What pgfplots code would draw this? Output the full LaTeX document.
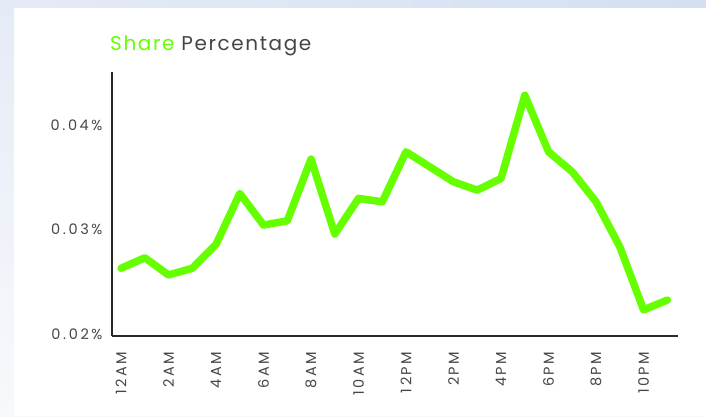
\documentclass[border=0pt]{standalone}
\usepackage{pgfplots}
\pgfplotsset{compat=1.18}
\usepackage{fontspec}
\setmainfont{Poppins}
\newfontfamily\titlefont[LetterSpace=8]{Poppins}
\newfontfamily\lblfont[LetterSpace=18]{Poppins}
\definecolor{sharegreen}{RGB}{102,255,0}
\definecolor{axisgrey}{RGB}{40,40,40}
\definecolor{labelgrey}{RGB}{70,70,70}
\definecolor{bgtopl}{RGB}{229,235,246}
\definecolor{bgtopr}{RGB}{211,224,242}
\definecolor{bgleftb}{RGB}{247,249,252}
\begin{document}
\begin{tikzpicture}
    % background panel
    \shade[top color=bgtopl, bottom color=bgleftb] (0,0) rectangle (706pt,416pt);
    \shade[left color=bgtopl, right color=bgtopr] (0,408pt) rectangle (706pt,416pt);
    \fill[white] (14pt,0) rectangle (706pt,408pt);

    \node[anchor=west, font=\titlefont\fontsize{20}{23}\selectfont, inner sep=0pt]
        at (110pt,370pt) {\textcolor{sharegreen}{Share} \textcolor{labelgrey}{Percentage}};

    \begin{axis}[
        at={(112pt,80pt)},
        anchor=south west,
        scale only axis,
        width=566pt,
        height=264pt,
        xmin=-0.38, xmax=23.45,
        ymin=0.0198, ymax=0.0451,
        scaled y ticks=false,
        axis lines=left,
        axis line style={-, line width=1.6pt, axisgrey},
        major tick length=0pt,
        ytick={0.02,0.03,0.04},
        yticklabels={0.02\%,0.03\%,0.04\%},
        xtick={0,2,...,22},
        xticklabels={12AM,2AM,4AM,6AM,8AM,10AM,12PM,2PM,4PM,6PM,8PM,10PM},
        x tick label style={rotate=90, anchor=east, xshift=-12pt},
        y tick label style={xshift=-6pt},
        tick label style={font=\lblfont\fontsize{14.5}{16}\selectfont, labelgrey},
        clip=false
    ]
        \addplot[
            sharegreen,
            line width=7.5pt,
            line join=round,
            line cap=round
        ] coordinates {
            (0,0.02629) (1,0.02730) (2,0.02565) (3,0.02629)
            (4,0.02858) (5,0.03346) (6,0.03043) (7,0.03084)
            (8,0.03675) (9,0.02957) (10,0.03299) (11,0.03266)
            (12,0.03745) (13,0.03601) (14,0.03457) (15,0.03378)
            (16,0.03490) (17,0.04287) (18,0.03745) (19,0.03553)
            (20,0.03266) (21,0.02835) (22,0.02230) (23,0.02325)
        };
    \end{axis}
\end{tikzpicture}
\end{document}
